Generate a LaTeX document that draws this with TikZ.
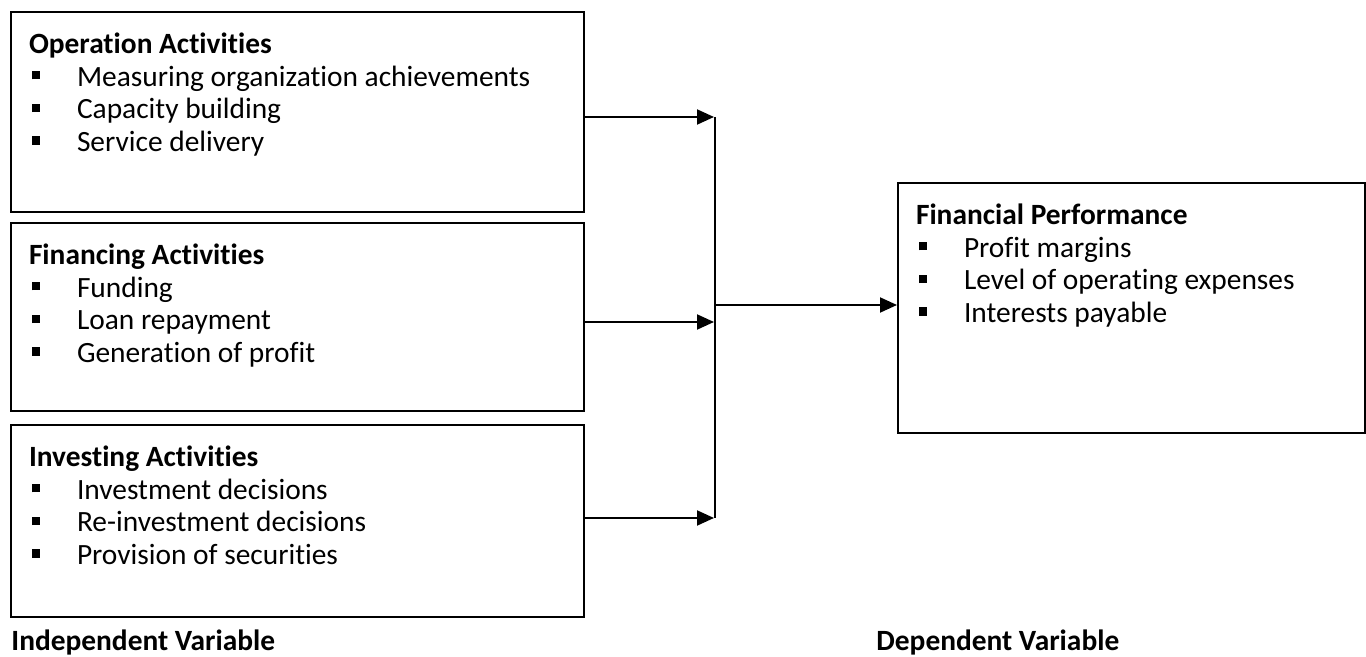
\documentclass[tikz,border=0pt]{standalone}
\usepackage{fontspec}
\setmainfont{Carlito}[Ligatures=NoCommon]
\usetikzlibrary{arrows.meta}
\usetikzlibrary{positioning}

% bullet item and box contents
\newcommand{\itm}[1]{\makebox[24pt][l]{\hspace{1.5pt}\rule[3.4pt]{4.2pt}{4.2pt}}#1\par}
\newcommand{\boxtext}[3]{%
  \begin{minipage}[t][#2][t]{#1}\fontsize{14.7}{16.3}\selectfont
  \vspace*{9.4pt}\leftskip=9pt\strut #3\end{minipage}}

\tikzset{
  varbox/.style={draw, line width=1pt, inner sep=0pt, anchor=north west},
  flow/.style={-{Triangle[length=8.5pt,width=7.5pt]}, line width=1pt},
  caption/.style={inner sep=0pt, anchor=base west, font=\fontsize{14.7}{16.3}\selectfont\bfseries},
}

\begin{document}
\begin{tikzpicture}[x=0.5pt,y=-0.5pt]
\useasboundingbox (0,0) rectangle (1366,657);

\node[varbox] (oper) at (10,11) {\boxtext{286.5pt}{100pt}{\textbf{Operation Activities}\par
  \itm{Measuring organization achievements}\itm{Capacity building}\itm{Service delivery}}};
\node[varbox] (fina) at (10,222) {\boxtext{286.5pt}{94pt}{\textbf{Financing Activities}\par
  \itm{Funding}\itm{Loan repayment}\itm{Generation of profit}}};
\node[varbox] (inve) at (10,424) {\boxtext{286.5pt}{96pt}{\textbf{Investing Activities}\par
  \itm{Investment decisions}\itm{Re-investment decisions}\itm{Provision of securities}}};
\node[varbox] (perf) at (897,182) {\boxtext{233.5pt}{125pt}{\textbf{Financial Performance}\par
  \itm{Profit margins}\itm{Level of operating expenses}\itm{Interests payable}}};

\coordinate (j1) at (714,117);
\coordinate (j2) at (714,322);
\coordinate (j3) at (714,518);
\coordinate (jm) at (715,305);

\draw[flow] (oper.east |- j1) -- (j1);
\draw[flow] (fina.east |- j2) -- (j2);
\draw[flow] (inve.east |- j3) -- (j3);
\draw[line width=0.7pt] (715,117) -- (715,518);
\draw[flow] (jm) -- (perf.west |- jm);

\node[caption] (indep) at (11,650) {Independent Variable};
\node[caption] (dep) at (876,650) {Dependent Variable};
\end{tikzpicture}
\end{document}
